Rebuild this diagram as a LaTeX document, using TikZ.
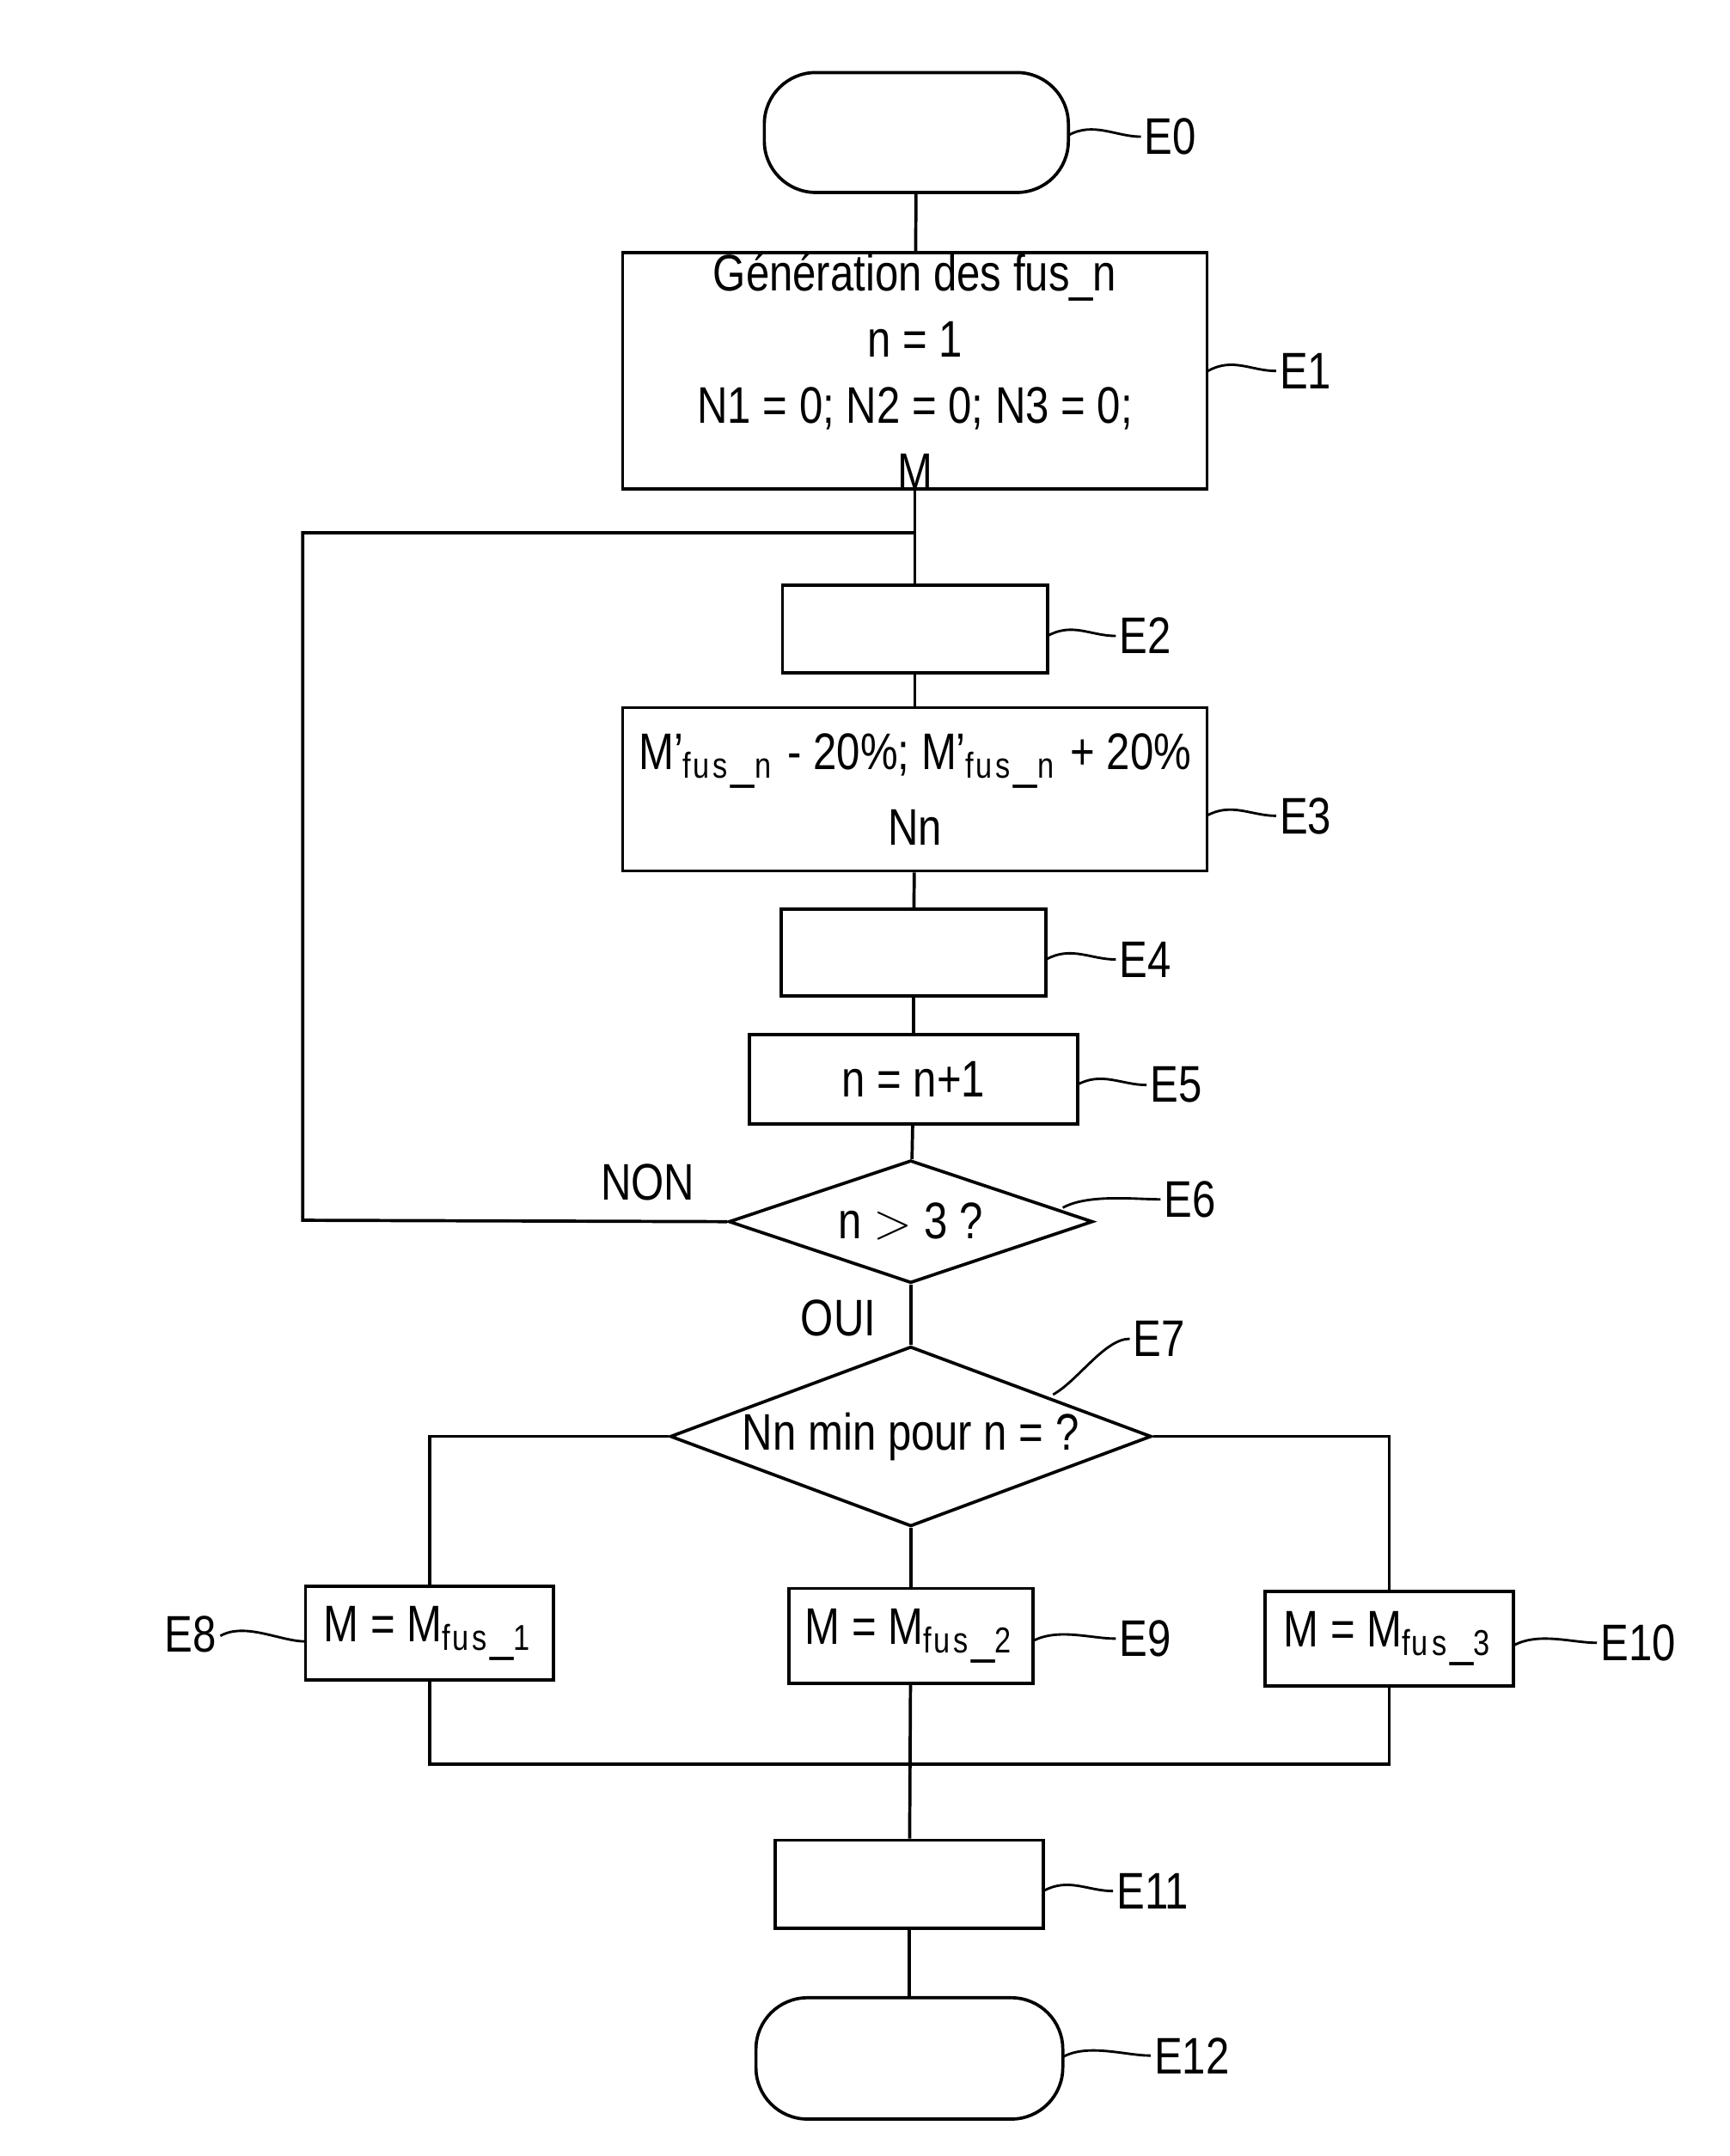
\documentclass[tikz,border=0pt]{standalone}
\usepackage{fontspec}
\setmainfont{Liberation Sans}[FakeStretch=0.82]
\usetikzlibrary{shapes.geometric}
\begin{document}
\begin{tikzpicture}[x=0.02cm,y=-0.02cm,line width=1.3pt,
  every node/.style={font=\fontsize{21}{27}\selectfont},
  box/.style={draw,rectangle,inner sep=0pt},
  term/.style={draw,rounded corners=21pt,inner sep=0pt},
  dia/.style={draw,diamond,aspect=3,inner sep=0pt},
  lab/.style={anchor=west,inner sep=1pt},
  lead/.style={line width=1pt}]
\useasboundingbox (0,0) rectangle (1240,1546);
\node[term,minimum width=218*0.02cm,minimum height=86*0.02cm] (e0) at (657,95) {};
\node[box,minimum width=419*0.02cm,minimum height=165*0.02cm,align=center] (e1) at (656,266) {Génération des fus\_n\\n = 1\\N1 = 0; N2 = 0; N3 = 0;\\M};
\node[box,minimum width=190*0.02cm,minimum height=63*0.02cm] (e2) at (656,451) {};
\node[box,minimum width=419*0.02cm,minimum height=117*0.02cm,align=center] (e3) at (656,566) {M’$_{\mathrm{fus\_n}}$ - 20\%; M’$_{\mathrm{fus\_n}}$ + 20\%\\[4pt]Nn};
\node[box,minimum width=190*0.02cm,minimum height=62*0.02cm] (e4) at (655,683) {};
\node[box,minimum width=235*0.02cm,minimum height=64*0.02cm] (e5) at (655,774) {n = n+1};
\node[dia,minimum width=261*0.02cm,minimum height=88*0.02cm] (e6) at (653,876) {n $>$ 3 ?};
\node[dia,minimum width=345*0.02cm,minimum height=129*0.02cm] (e7) at (653,1030) {Nn min pour n = ?};
\node[box,minimum width=178*0.02cm,minimum height=67*0.02cm] (e8) at (308,1171) {M = M$_{\mathrm{fus\_1}}$};
\node[box,minimum width=175*0.02cm,minimum height=68*0.02cm] (e9) at (653,1173) {M = M$_{\mathrm{fus\_2}}$};
\node[box,minimum width=178*0.02cm,minimum height=68*0.02cm] (e10) at (996,1175) {M = M$_{\mathrm{fus\_3}}$};
\node[box,minimum width=192*0.02cm,minimum height=63*0.02cm] (e11) at (652,1351) {};
\node[term,minimum width=220*0.02cm,minimum height=87*0.02cm] (e12) at (652,1476) {};
\coordinate (top) at (656,382);
\coordinate (lt) at (217,382);
\coordinate (lb) at (217,875);
\coordinate (j) at (653,1265);
\draw (e0) -- (e1);
\draw (e1) -- (e2);
\draw (e2) -- (e3);
\draw (e3) -- (e4);
\draw (e4) -- (e5);
\draw (e5) -- (e6);
\draw (e6.west) -- (lb) -- (lt) -- (top);
\draw (e6) -- (e7);
\draw (e7.west) -| (e8.north);
\draw (e7.east) -| (e10.north);
\draw (e7) -- (e9);
\draw (e8.south) |- (j) -| (e10.south);
\draw (e9) -- (e11);
\draw (e11) -- (e12);
\node[anchor=south east] (non) at (505,868) {NON};
\node[anchor=north east] (oui) at (635,925) {OUI};
\newcommand{\ld}[3]{\draw[lead] (#1) .. controls +(18,-10) and +(-18,0) .. (#2) node[lab] {#3};}
\ld{766,97}{818,98}{E0}
\ld{866,266}{915,266}{E1}
\ld{751,456}{800,456}{E2}
\ld{865,585}{915,585}{E3}
\ld{750,688}{800,688}{E4}
\ld{772,778}{822,778}{E5}
\ld{762,866}{832,860}{E6}
\ld{755,1000}{810,960}{E7}
\ld{740,1177}{800,1175}{E9}
\ld{1085,1180}{1145,1178}{E10}
\ld{748,1356}{798,1356}{E11}
\ld{762,1475}{825,1474}{E12}
\draw[lead] (158,1173) .. controls +(18,-10) and +(-18,0) .. (219,1177);
\node[anchor=east,inner sep=1pt] at (158,1172) {E8};
\end{tikzpicture}
\end{document}
